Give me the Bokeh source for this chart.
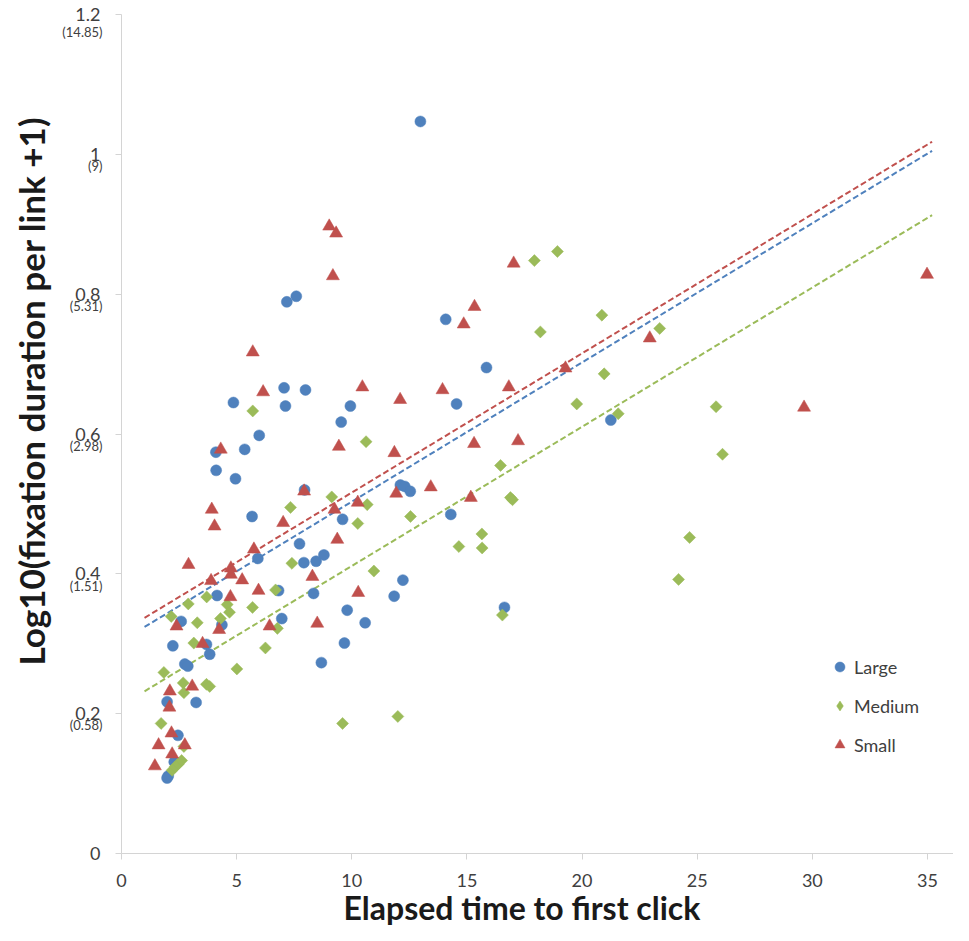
import numpy as np
from bokeh.plotting import figure
from bokeh.models import (Range1d, FixedTicker, CustomJSTickFormatter, LinearAxis, Legend,
                          LegendItem, Title)
from bokeh.embed import file_html
from bokeh.resources import INLINE

# ---------------- data ----------------
large_x = [12.98, 7.18, 7.59, 4.86, 7.06, 7.99, 7.12, 9.94, 9.54, 5.98,
           5.35, 4.10, 4.11, 4.95, 7.95, 14.08, 15.85, 14.55, 12.11, 12.30,
           12.54, 14.30, 5.67, 9.60, 7.73, 8.79, 8.45, 7.92, 5.92, 8.34,
           12.22, 11.84, 6.82, 9.80, 10.58, 6.96, 16.63, 9.68, 21.25, 4.15,
           2.59, 4.36, 2.23, 3.69, 3.83, 2.75, 2.88, 8.68, 1.98, 3.24,
           2.45, 2.29, 2.03, 1.98]
large_y = [1.047, 0.789, 0.797, 0.645, 0.666, 0.663, 0.640, 0.640, 0.617, 0.598,
           0.578, 0.574, 0.548, 0.536, 0.520, 0.764, 0.695, 0.643, 0.527, 0.525,
           0.518, 0.485, 0.482, 0.478, 0.443, 0.427, 0.418, 0.416, 0.422, 0.372,
           0.391, 0.368, 0.376, 0.348, 0.330, 0.336, 0.352, 0.301, 0.620, 0.369,
           0.332, 0.327, 0.297, 0.299, 0.285, 0.271, 0.268, 0.273, 0.217, 0.216,
           0.169, 0.131, 0.111, 0.108]

medium_x = [17.93, 18.93, 20.86, 18.19, 23.37, 20.96, 19.77, 21.57, 25.82, 26.10,
            16.46, 16.89, 16.98, 15.65, 14.65, 15.66, 24.67, 24.19, 16.54, 5.70,
            10.62, 9.13, 10.67, 7.34, 10.26, 12.55, 7.40, 10.96, 6.69, 5.69,
            6.77, 6.25, 9.60, 12.00, 2.90, 3.70, 2.16, 4.59, 4.69, 4.30,
            3.29, 3.14, 1.84, 2.68, 2.71, 3.69, 3.83, 5.01, 1.72, 2.71,
            2.20, 2.33, 2.47, 2.61]
medium_y = [0.848, 0.861, 0.770, 0.746, 0.751, 0.686, 0.643, 0.629, 0.639, 0.571,
            0.555, 0.509, 0.506, 0.457, 0.439, 0.437, 0.452, 0.392, 0.341, 0.633,
            0.589, 0.510, 0.499, 0.495, 0.472, 0.482, 0.415, 0.404, 0.377, 0.352,
            0.322, 0.294, 0.186, 0.196, 0.357, 0.367, 0.339, 0.356, 0.345, 0.336,
            0.330, 0.301, 0.259, 0.244, 0.230, 0.242, 0.239, 0.264, 0.186, 0.153,
            0.119, 0.124, 0.128, 0.133]

small_x = [9.02, 9.32, 9.18, 17.03, 15.33, 14.86, 5.70, 6.15, 10.46, 12.10,
           13.94, 16.82, 19.28, 22.94, 34.98, 29.64, 4.31, 9.44, 11.85, 15.31,
           17.22, 7.93, 11.93, 13.43, 15.17, 7.02, 9.25, 10.26, 9.37, 5.75,
           8.29, 5.95, 10.28, 6.43, 8.50, 3.92, 4.04, 2.91, 4.75, 3.89,
           4.75, 5.24, 4.73, 2.39, 4.24, 3.52, 2.10, 3.07, 2.08, 2.17,
           1.61, 2.75, 2.20, 1.45]
small_y = [0.897, 0.887, 0.826, 0.844, 0.782, 0.757, 0.717, 0.660, 0.667, 0.649,
           0.663, 0.667, 0.694, 0.737, 0.828, 0.638, 0.578, 0.582, 0.573, 0.586,
           0.590, 0.518, 0.515, 0.524, 0.509, 0.473, 0.492, 0.502, 0.449, 0.435,
           0.396, 0.376, 0.373, 0.325, 0.329, 0.492, 0.468, 0.413, 0.408, 0.390,
           0.399, 0.391, 0.367, 0.325, 0.320, 0.300, 0.232, 0.239, 0.209, 0.172,
           0.155, 0.155, 0.142, 0.125]

# linear trend lines (intercept, slope) and their x span
trend_x = [1.0, 35.2]
large_trend = (0.3041, 0.019912)
medium_trend = (0.2121, 0.019912)
small_trend = (0.3171, 0.019912)

x_ticks = [0, 5, 10, 15, 20, 25, 30, 35]
y_ticks = [0, 0.2, 0.4, 0.6, 0.8, 1.0, 1.2]
y_sub_ticks = [0.2, 0.4, 0.6, 0.8, 1.0, 1.2]
y_sub_labels = ["(0.58)", "(1.51)", "(2.98)", "(5.31)", "(9)", "(14.85)"]

series_names = ["Large", "Medium", "Small"]
colors = ["#4F81BD", "#9BBB59", "#C0504D"]

x_title = "Elapsed time to first click"
y_title = "Log10(fixation duration per link +1)"

FONT = "Lato"
TICK_COLOR = "#404040"
AXIS_COLOR = "#D4D4D4"
TITLE_COLOR = "#1A1A1A"

# ---------------- figure ----------------
p = figure(width=953, height=925, output_backend="svg", toolbar_location=None,
           x_range=Range1d(0, 36.13), y_range=Range1d(0, 1.2),
           min_border_left=121, min_border_right=0, min_border_top=14,
           min_border_bottom=72)
p.outline_line_color = None
p.xgrid.visible = False
p.ygrid.visible = False
p.background_fill_color = "white"
p.border_fill_color = "white"

for ax in (p.xaxis[0], p.yaxis[0]):
    ax.axis_line_color = AXIS_COLOR
    ax.axis_line_width = 1
    ax.major_tick_line_color = AXIS_COLOR
    ax.major_tick_out = 6
    ax.major_tick_in = 0
    ax.minor_tick_line_color = None
    ax.major_label_text_font = FONT
    ax.major_label_text_font_size = "18px"
    ax.major_label_text_color = TICK_COLOR

p.xaxis[0].ticker = FixedTicker(ticks=x_ticks)
p.xaxis[0].major_label_standoff = 14
p.yaxis[0].ticker = FixedTicker(ticks=y_ticks)
p.yaxis[0].major_label_standoff = 15
p.yaxis[0].formatter = CustomJSTickFormatter(code="return String(Math.round(tick*10)/10)")

# secondary (back-transformed) labels, drawn just below each main y tick label
SUB_FS = 13
sub_axis = LinearAxis(
    ticker=FixedTicker(ticks=y_sub_ticks),
    formatter=CustomJSTickFormatter(
        args=dict(sub_ticks=y_sub_ticks, sub_labels=y_sub_labels),
        code="""
        let k = -1;
        for (let j = 0; j < sub_ticks.length; j++) {
            if (Math.abs(sub_ticks[j] - tick) < 1e-6) { k = j; }
        }
        return k >= 0 ? "\\n" + sub_labels[k] : "";
        """),
    axis_line_color=None, major_tick_line_color=None, minor_tick_line_color=None,
    major_tick_out=0, major_tick_in=0, major_label_standoff=-30,
    major_label_text_font=FONT, major_label_text_font_size=f"{SUB_FS}px",
    major_label_text_color=TICK_COLOR, major_label_text_line_height=19 / SUB_FS)
p.add_layout(sub_axis, "left")

# trend lines
tx = np.array(trend_x)
for (b, m), c in zip([large_trend, medium_trend, small_trend], colors):
    p.line(tx, b + m * tx, line_color=c, line_width=2, line_dash="6 3")

# scatter series
r_large = p.scatter(large_x, large_y, marker="circle", size=11,
                    fill_color=colors[0], line_color=colors[0], line_width=0.5)
r_medium = p.scatter(medium_x, medium_y, marker="square", angle=np.pi / 4, size=8.5,
                     fill_color=colors[1], line_color=colors[1], line_width=0.5)
r_small = p.scatter(small_x, small_y, marker="triangle", size=13,
                    fill_color=colors[2], line_color=colors[2], line_width=0.5)
# legend swatch for the diamond series (legend glyphs are drawn unrotated)
r_medium_key = p.scatter([np.nan], [np.nan], marker="diamond",
                         fill_color=colors[1], line_color=colors[1], line_width=0.5)

legend = Legend(items=[LegendItem(label=series_names[0], renderers=[r_large]),
                       LegendItem(label=series_names[1], renderers=[r_medium_key]),
                       LegendItem(label=series_names[2], renderers=[r_small])],
                location=(706, 96), orientation="vertical",
                glyph_width=25, glyph_height=25, label_standoff=2,
                spacing=14, padding=0, margin=0,
                label_text_font=FONT, label_text_font_size="18px",
                label_text_color=TICK_COLOR,
                background_fill_alpha=0, border_line_color=None)
p.add_layout(legend, "center")

# axis titles
p.add_layout(Title(text=x_title, align="left", offset=222, standoff=-6,
                   vertical_align="middle",
                   text_font=FONT, text_font_size="32px", text_font_style="bold",
                   text_color=TITLE_COLOR), "below")
p.add_layout(Title(text=y_title, align="left", offset=188, standoff=14,
                   vertical_align="middle",
                   text_font=FONT, text_font_size="35px", text_font_style="bold",
                   text_color=TITLE_COLOR), "left")

open("out.html", "w").write(file_html(p, INLINE))
